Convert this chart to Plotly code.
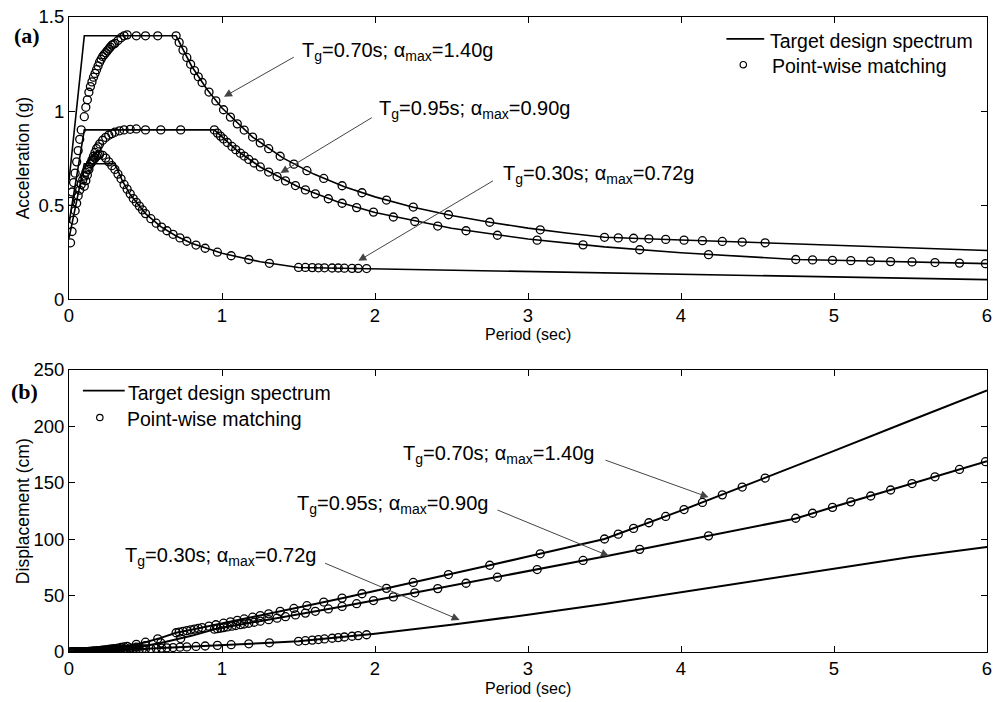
import plotly.graph_objects as go

# ---------------- data ----------------
# Target design spectra: period (s), acceleration (g), displacement (cm)
T_TGT_070 = [0, 0.1, 0.2, 0.3, 0.4, 0.5, 0.6, 0.7, 0.8, 0.9, 1.0, 1.2, 1.4, 1.6, 1.8, 2.0, 2.25, 2.5,
             2.75, 3.0, 3.25, 3.5, 4.0, 4.5, 5.0, 5.5, 6.0]
SA_TGT_070 = [0.63, 1.40, 1.40, 1.40, 1.40, 1.40, 1.40, 1.40, 1.241, 1.117, 1.016, 0.862, 0.750, 0.665,
              0.598, 0.544, 0.489, 0.445, 0.409, 0.378, 0.352, 0.329, 0.315, 0.301, 0.287, 0.273, 0.259]
SD_TGT_070 = [0, 0.35, 1.39, 3.13, 5.57, 8.70, 12.52, 17.05, 19.74, 22.48, 25.25, 30.85, 36.53, 42.30,
              48.15, 54.07, 61.52, 69.11, 76.86, 84.54, 92.39, 100.15, 125.2, 151.4, 178.2, 205.1, 231.6]

T_TGT_095 = [0, 0.1, 0.2, 0.3, 0.4, 0.5, 0.6, 0.7, 0.8, 0.95, 1.1, 1.25, 1.5, 1.75, 2.0, 2.5, 3.0, 3.5,
             4.0, 4.75, 5.0, 5.5, 6.0]
SA_TGT_095 = [0.405, 0.90, 0.90, 0.90, 0.90, 0.90, 0.90, 0.90, 0.90, 0.90, 0.789, 0.703, 0.597, 0.519,
              0.461, 0.377, 0.320, 0.278, 0.247, 0.211, 0.207, 0.198, 0.189]
SD_TGT_095 = [0, 0.22, 0.89, 2.01, 3.58, 5.59, 8.05, 10.96, 14.31, 20.18, 23.72, 27.30, 33.38, 39.50,
              45.82, 58.55, 71.57, 84.63, 98.20, 118.3, 128.6, 148.8, 169.1]

T_TGT_030 = [0, 0.1, 0.2, 0.3, 0.35, 0.4, 0.5, 0.6, 0.7, 0.8, 1.0, 1.25, 1.5, 2.0, 2.5, 3.0, 3.5, 4.0,
             4.5, 5.0, 5.5, 6.0]
SA_TGT_030 = [0.324, 0.72, 0.72, 0.72, 0.627, 0.556, 0.455, 0.386, 0.336, 0.298, 0.244, 0.199, 0.169,
              0.162, 0.155, 0.148, 0.140, 0.133, 0.126, 0.119, 0.112, 0.104]
SD_TGT_030 = [0, 0.18, 0.72, 1.61, 1.91, 2.21, 2.83, 3.45, 4.09, 4.74, 6.06, 7.73, 9.45, 16.10, 24.07,
              32.99, 42.62, 52.88, 63.40, 73.93, 84.19, 93.04]

# Point-wise matching results
T_PTS_070 = [0.10, 0.11, 0.12, 0.13, 0.14, 0.15, 0.16, 0.17, 0.18, 0.19, 0.20, 0.21, 0.22, 0.23, 0.24,
             0.25, 0.26, 0.27, 0.28, 0.29, 0.30, 0.32, 0.34, 0.36, 0.38, 0.44, 0.50, 0.58, 0.70,
             0.72, 0.745, 0.77, 0.795, 0.82, 0.845, 0.87, 0.915, 0.96, 1.01, 1.055, 1.10, 1.145, 1.20,
             1.25, 1.305, 1.38, 1.47, 1.555, 1.665, 1.785, 1.915, 2.075, 2.25, 2.48, 2.75, 3.08,
             3.5, 3.59, 3.69, 3.79, 3.90, 4.02, 4.14, 4.27, 4.40, 4.55]
SA_PTS_070 = [0.97, 1.02, 1.06, 1.10, 1.13, 1.155, 1.18, 1.20, 1.22, 1.24, 1.26, 1.275, 1.29, 1.30, 1.31,
              1.32, 1.33, 1.34, 1.35, 1.355, 1.36, 1.375, 1.39, 1.40, 1.405, 1.40, 1.40, 1.40, 1.40,
              1.365, 1.324, 1.285, 1.249, 1.215, 1.182, 1.152, 1.101, 1.054, 1.007, 0.968, 0.932, 0.899,
              0.862, 0.831, 0.800, 0.760, 0.718, 0.683, 0.642, 0.603, 0.566, 0.527, 0.490, 0.449, 0.409,
              0.369, 0.329, 0.326, 0.324, 0.321, 0.318, 0.314, 0.311, 0.307, 0.304, 0.300]
SD_PTS_070 = [0.24, 0.31, 0.38, 0.46, 0.55, 0.65, 0.75, 0.86, 0.98, 1.11, 1.25, 1.40, 1.55, 1.71, 1.88,
              2.05, 2.23, 2.43, 2.63, 2.83, 3.04, 3.50, 3.99, 4.51, 5.04, 6.74, 8.70, 11.70, 17.05,
              17.58, 18.26, 18.93, 19.62, 20.30, 20.97, 21.67, 22.91, 24.14, 25.53, 26.77, 28.02, 29.29,
              30.85, 32.27, 33.86, 35.97, 38.56, 41.04, 44.23, 47.74, 51.58, 56.39, 61.64, 68.62, 76.86,
              86.99, 100.1, 104.4, 109.5, 114.5, 120.1, 126.2, 132.5, 139.2, 146.1, 154.1]

T_PTS_095 = [0.01, 0.02, 0.03, 0.04, 0.05, 0.06, 0.07, 0.08, 0.10, 0.11, 0.12, 0.13, 0.14, 0.15, 0.16,
             0.17, 0.18, 0.19, 0.20, 0.22, 0.24, 0.26, 0.28, 0.30, 0.33, 0.36, 0.40, 0.44, 0.50, 0.60,
             0.73, 0.95, 0.97, 0.99, 1.01, 1.035, 1.065, 1.09, 1.12, 1.145, 1.175, 1.21, 1.25, 1.305,
             1.36, 1.415, 1.48, 1.545, 1.61, 1.695, 1.785, 1.88, 1.99, 2.12, 2.26, 2.41, 2.595, 2.80,
             3.06, 3.36, 3.73, 4.18, 4.75, 4.86, 4.99, 5.11, 5.24, 5.37, 5.51, 5.66, 5.82, 5.99]
SA_PTS_095 = [0.52, 0.57, 0.62, 0.67, 0.73, 0.79, 0.85, 0.90, 0.60, 0.63, 0.66, 0.69, 0.72, 0.74, 0.76,
              0.78, 0.80, 0.81, 0.825, 0.845, 0.86, 0.872, 0.88, 0.888, 0.895, 0.90, 0.903, 0.905, 0.90,
              0.90, 0.90, 0.900, 0.883, 0.867, 0.852, 0.833, 0.812, 0.795, 0.776, 0.761, 0.743, 0.724,
              0.703, 0.676, 0.652, 0.629, 0.604, 0.581, 0.560, 0.534, 0.510, 0.487, 0.463, 0.437, 0.413,
              0.389, 0.364, 0.340, 0.314, 0.289, 0.263, 0.237, 0.211, 0.209, 0.207, 0.205, 0.203, 0.200,
              0.198, 0.195, 0.192, 0.189]
SD_PTS_095 = [0.00, 0.01, 0.01, 0.03, 0.05, 0.07, 0.10, 0.14, 0.15, 0.19, 0.24, 0.29, 0.35, 0.41, 0.48,
              0.56, 0.64, 0.73, 0.82, 1.02, 1.23, 1.47, 1.71, 1.99, 2.42, 2.90, 3.59, 4.35, 5.59, 8.05,
              11.92, 20.18, 20.65, 21.12, 21.60, 22.17, 22.89, 23.47, 24.19, 24.79, 25.49, 26.34, 27.30,
              28.61, 29.97, 31.30, 32.88, 34.46, 36.07, 38.12, 40.38, 42.77, 45.56, 48.81, 52.42, 56.15,
              60.91, 66.24, 73.06, 81.08, 90.93, 102.9, 118.5, 122.9, 128.1, 133.0, 138.2, 143.5, 149.2,
              155.2, 161.7, 168.6]

T_PTS_030 = [0.01, 0.02, 0.03, 0.04, 0.05, 0.06, 0.07, 0.08, 0.09, 0.10, 0.11, 0.12, 0.13, 0.14, 0.15,
             0.16, 0.17, 0.18, 0.19, 0.20, 0.22, 0.24, 0.26, 0.28, 0.30, 0.32, 0.34, 0.36, 0.38, 0.40,
             0.42, 0.44, 0.46, 0.48, 0.50, 0.535, 0.57, 0.605, 0.64, 0.68, 0.725, 0.77, 0.83, 0.89, 0.97,
             1.06, 1.175, 1.31, 1.50, 1.545, 1.59, 1.63, 1.67, 1.72, 1.76, 1.80, 1.85, 1.89, 1.945]
SA_PTS_030 = [0.30, 0.36, 0.42, 0.47, 0.51, 0.55, 0.58, 0.61, 0.635, 0.655, 0.675, 0.69, 0.705, 0.72,
              0.73, 0.74, 0.75, 0.76, 0.765, 0.77, 0.765, 0.75, 0.73, 0.71, 0.69, 0.665, 0.64, 0.61,
              0.585, 0.56, 0.535, 0.515, 0.495, 0.475, 0.455, 0.428, 0.404, 0.383, 0.364, 0.345, 0.326,
              0.308, 0.288, 0.271, 0.250, 0.231, 0.211, 0.191, 0.169, 0.169, 0.168, 0.167, 0.167, 0.166,
              0.166, 0.165, 0.164, 0.164, 0.163]
SD_PTS_030 = [0.00, 0.00, 0.01, 0.02, 0.03, 0.05, 0.07, 0.10, 0.13, 0.16, 0.20, 0.25, 0.30, 0.35, 0.41,
              0.47, 0.54, 0.61, 0.69, 0.77, 0.92, 1.07, 1.23, 1.38, 1.54, 1.69, 1.84, 1.97, 2.10, 2.23,
              2.35, 2.48, 2.60, 2.72, 2.83, 3.04, 3.26, 3.48, 3.71, 3.96, 4.26, 4.54, 4.93, 5.33, 5.85,
              6.45, 7.24, 8.15, 9.46, 10.00, 10.55, 11.05, 11.56, 12.20, 12.74, 13.28, 13.97, 14.52, 15.30]

LABELS = ["T<sub>g</sub>=0.70s; \u03b1<sub>max</sub>=1.40g",
          "T<sub>g</sub>=0.95s; \u03b1<sub>max</sub>=0.90g",
          "T<sub>g</sub>=0.30s; \u03b1<sub>max</sub>=0.72g"]
LEGEND_LINE = "Target design spectrum"
LEGEND_MARK = "Point-wise matching"
X_TICKS = [0, 1, 2, 3, 4, 5, 6]
YA_TICKS = [0, 0.5, 1, 1.5]
YA_TICKTEXT = ["0", "0.5", "1", "1.5"]
YD_TICKS = [0, 50, 100, 150, 200, 250]

# ---------------- figure ----------------
W, H = 998, 702
L, R, T, B = 69, 992, 13, 652  # plot area in pixels


def px(x):
    return (x - L) / (R - L)


def py(y):
    return (B - y) / (B - T)


FONT = "Liberation Sans, Arial, sans-serif"
fig = go.Figure()

targets = [(T_TGT_070, SA_TGT_070, SD_TGT_070), (T_TGT_095, SA_TGT_095, SD_TGT_095),
           (T_TGT_030, SA_TGT_030, SD_TGT_030)]
points = [(T_PTS_070, SA_PTS_070, SD_PTS_070), (T_PTS_095, SA_PTS_095, SD_PTS_095),
          (T_PTS_030, SA_PTS_030, SD_PTS_030)]

for t, sa, sd in targets:
    fig.add_trace(go.Scatter(x=t, y=sa, mode="lines", line=dict(color="black", width=1.6),
                             xaxis="x", yaxis="y", showlegend=False, hoverinfo="skip"))
    fig.add_trace(go.Scatter(x=t, y=sd, mode="lines", line=dict(color="black", width=2),
                             xaxis="x2", yaxis="y2", showlegend=False, hoverinfo="skip"))
mk = dict(symbol="circle-open", size=8, color="black", line=dict(color="black", width=1.3))
for t, sa, sd in points:
    fig.add_trace(go.Scatter(x=t, y=sa, mode="markers", marker=mk, xaxis="x", yaxis="y",
                             showlegend=False))
    fig.add_trace(go.Scatter(x=t, y=sd, mode="markers", marker=mk, xaxis="x2", yaxis="y2",
                             showlegend=False))

axis_common = dict(showline=True, linecolor="black", linewidth=1, mirror="ticks", ticks="inside",
                   ticklen=6, tickwidth=1, tickcolor="black", showgrid=False, zeroline=False,
                   tickfont=dict(family=FONT, size=18.5, color="black"))
top_dom = [py(297), 1.0]
bot_dom = [0.0, py(368)]
fig.update_layout(
    width=W, height=H, plot_bgcolor="white", paper_bgcolor="white",
    margin=dict(l=L, r=W - R, t=T, b=H - B),
    font=dict(family=FONT, color="black"),
    xaxis=dict(domain=[0, 1], anchor="y", range=[0, 6], tickvals=X_TICKS, **axis_common),
    yaxis=dict(domain=top_dom, anchor="x", range=[0, 1.5], tickvals=YA_TICKS, ticktext=YA_TICKTEXT,
               **axis_common),
    xaxis2=dict(domain=[0, 1], anchor="y2", range=[0, 6], tickvals=X_TICKS, **axis_common),
    yaxis2=dict(domain=bot_dom, anchor="x2", range=[0, 250], tickvals=YD_TICKS, **axis_common),
    showlegend=False,
)

ann = []
shapes = []
afont = dict(family=FONT, size=20, color="black")

# curve labels and arrows (data coordinates of label start / arrow tail / arrow tip)
top_text = [(1.512, 1.315), (2.010, 1.006), (2.824, 0.663)]
top_arrows = [((1.479, 1.291), (1.013, 1.076)), ((1.989, 0.970), (1.382, 0.671)),
              ((2.781, 0.634), (1.891, 0.204))]
bot_text = [(2.173, 175.0), (1.479, 131.0), (0.351, 84.7)]
bot_arrows = [((3.497, 170.4), (4.180, 137.1)), ((2.791, 126.3), (3.529, 85.1)),
              ((1.664, 79.2), (2.553, 28.4))]

for (xr, yr, texts, arrows) in (("x", "y", top_text, top_arrows), ("x2", "y2", bot_text, bot_arrows)):
    for lab, (tx, ty) in zip(LABELS, texts):
        ann.append(dict(x=tx, y=ty, xref=xr, yref=yr, text=lab, showarrow=False, xanchor="left",
                        yanchor="middle", font=afont))
    for (tail, tip) in arrows:
        ann.append(dict(x=tip[0], y=tip[1], ax=tail[0], ay=tail[1], xref=xr, yref=yr, axref=xr,
                        ayref=yr, text="", showarrow=True, arrowhead=2, arrowsize=1.6,
                        arrowwidth=1, arrowcolor="#444444", standoff=0))

lfont = dict(family=FONT, size=19.5, color="black")
# legends (drawn by hand to match positions)
for (lx0, lx1, ly, tx1, ty1, cx, cy, tx2, ty2) in ((730, 768, 35, 772, 37, 747, 61, 774, 62.5),
                                                  (83, 125, 389, 126, 391, 100, 416, 125, 418)):
    shapes.append(dict(type="line", xref="paper", yref="paper", x0=px(lx0), x1=px(lx1), y0=py(ly),
                       y1=py(ly), line=dict(color="black", width=1.6)))
    shapes.append(dict(type="circle", xref="paper", yref="paper", xsizemode="pixel",
                       ysizemode="pixel", xanchor=px(cx), yanchor=py(cy), x0=-3.2, x1=3.2, y0=-3.2,
                       y1=3.2, line=dict(color="black", width=1.2)))
    ann.append(dict(x=px(tx1), y=py(ty1), xref="paper", yref="paper", text=LEGEND_LINE,
                    showarrow=False, xanchor="left", yanchor="middle", font=lfont))
    ann.append(dict(x=px(tx2), y=py(ty2), xref="paper", yref="paper", text=LEGEND_MARK,
                    showarrow=False, xanchor="left", yanchor="middle", font=lfont))

# panel letters
pfont = dict(family="Liberation Serif, Times New Roman, serif", size=22, color="black")
ann.append(dict(x=px(27), y=py(32), xref="paper", yref="paper", text="<b>(a)</b>", showarrow=False,
                xanchor="center", yanchor="middle", font=pfont))
ann.append(dict(x=px(24), y=py(390), xref="paper", yref="paper", text="<b>(b)</b>", showarrow=False,
                xanchor="center", yanchor="middle", font=pfont))

# axis titles
tfont = dict(family=FONT, size=16, color="black")
yfont = dict(family=FONT, size=17.5, color="black")
ann.append(dict(x=px(530), y=py(332), xref="paper", yref="paper", text="Period (sec)",
                showarrow=False, xanchor="center", yanchor="middle", font=tfont))
ann.append(dict(x=px(530), y=py(689), xref="paper", yref="paper", text="Period (sec)",
                showarrow=False, xanchor="center", yanchor="middle", font=tfont))
ann.append(dict(x=px(23), y=py(155), xref="paper", yref="paper", text="Acceleration (g)",
                showarrow=False, xanchor="center", yanchor="middle", textangle=-90, font=yfont))
ann.append(dict(x=px(23), y=py(510), xref="paper", yref="paper", text="Displacement (cm)",
                showarrow=False, xanchor="center", yanchor="middle", textangle=-90, font=yfont))

fig.update_layout(annotations=ann, shapes=shapes)
fig.write_html("out.html")
